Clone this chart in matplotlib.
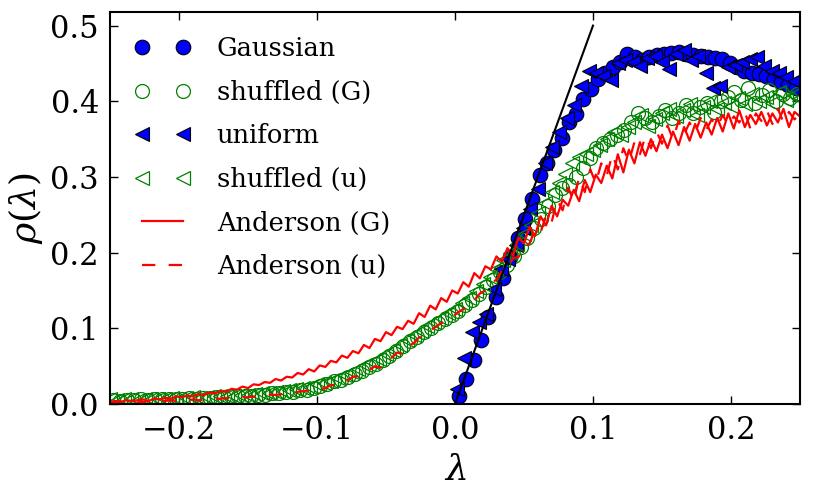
import numpy as np
import matplotlib
matplotlib.use("Agg")
import matplotlib.pyplot as plt

# ---------------- data ----------------
gauss_x = [0.0030, 0.0083, 0.0136, 0.0189, 0.0242, 0.0295, 0.0348, 0.0401, 0.0454, 0.0507,
           0.0560, 0.0613, 0.0666, 0.0719, 0.0772, 0.0825, 0.0878, 0.0931, 0.0984, 0.1037,
           0.1090, 0.1143, 0.1196, 0.1249, 0.1302, 0.1355, 0.1408, 0.1461, 0.1514, 0.1567,
           0.1620, 0.1673, 0.1726, 0.1779, 0.1832, 0.1885, 0.1938, 0.1991, 0.2044, 0.2097,
           0.2150, 0.2203, 0.2256, 0.2309, 0.2362, 0.2415, 0.2468]
gauss_y = [0.011, 0.033, 0.058, 0.085, 0.115, 0.142, 0.167, 0.194, 0.220, 0.245,
           0.271, 0.302, 0.318, 0.335, 0.352, 0.372, 0.383, 0.403, 0.416, 0.430,
           0.438, 0.445, 0.452, 0.462, 0.458, 0.455, 0.459, 0.461, 0.463, 0.464,
           0.465, 0.463, 0.461, 0.460, 0.459, 0.457, 0.456, 0.450, 0.445, 0.440,
           0.437, 0.436, 0.433, 0.430, 0.425, 0.421, 0.417]

unif_x = [0.0015, 0.0068, 0.0121, 0.0174, 0.0227, 0.0280, 0.0333, 0.0386, 0.0439, 0.0492,
          0.0545, 0.0598, 0.0651, 0.0704, 0.0757, 0.0810, 0.0863, 0.0916, 0.0969, 0.1022,
          0.1075, 0.1128, 0.1181, 0.1234, 0.1287, 0.1340, 0.1393, 0.1446, 0.1499, 0.1552,
          0.1605, 0.1658, 0.1711, 0.1764, 0.1817, 0.1870, 0.1923, 0.1976, 0.2029, 0.2082,
          0.2135, 0.2188, 0.2241, 0.2294, 0.2347, 0.2400, 0.2453]
unif_y = [0.020, 0.061, 0.095, 0.108, 0.119, 0.152, 0.178, 0.192, 0.210, 0.232,
          0.258, 0.284, 0.318, 0.340, 0.360, 0.378, 0.395, 0.420, 0.440, 0.437,
          0.433, 0.428, 0.450, 0.455, 0.452, 0.447, 0.457, 0.460, 0.452, 0.443,
          0.462, 0.468, 0.455, 0.460, 0.438, 0.418, 0.420, 0.445, 0.448, 0.452,
          0.456, 0.458, 0.446, 0.440, 0.437, 0.432, 0.427]

shufG_y = [0.005, 0.004, 0.005, 0.005, 0.006, 0.005, 0.006, 0.006, 0.007, 0.006,
           0.007, 0.008, 0.007, 0.008, 0.008, 0.009, 0.009, 0.010, 0.010, 0.011,
           0.011, 0.012, 0.012, 0.014, 0.014, 0.016, 0.016, 0.018, 0.019, 0.021,
           0.024, 0.026, 0.030, 0.032, 0.036, 0.040, 0.044, 0.049, 0.053, 0.058,
           0.064, 0.070, 0.077, 0.083, 0.089, 0.095, 0.101, 0.107, 0.112, 0.117,
           0.123, 0.131, 0.138, 0.146, 0.155, 0.164, 0.174, 0.184, 0.195, 0.207,
           0.220, 0.232, 0.245, 0.262, 0.276, 0.285, 0.290, 0.300, 0.312, 0.325,
           0.338, 0.345, 0.350, 0.356, 0.362, 0.372, 0.385, 0.378, 0.372, 0.380,
           0.388, 0.378, 0.385, 0.395, 0.384, 0.392, 0.398, 0.386, 0.400, 0.406,
           0.412, 0.402, 0.418, 0.398, 0.408, 0.415, 0.400, 0.410, 0.404, 0.410]

shufU_y = [0.006, 0.005, 0.006, 0.006, 0.005, 0.007, 0.006, 0.007, 0.007, 0.008,
           0.007, 0.008, 0.009, 0.008, 0.009, 0.010, 0.010, 0.011, 0.011, 0.012,
           0.012, 0.013, 0.014, 0.015, 0.016, 0.017, 0.018, 0.020, 0.021, 0.023,
           0.026, 0.028, 0.031, 0.034, 0.038, 0.042, 0.046, 0.051, 0.055, 0.060,
           0.066, 0.072, 0.078, 0.085, 0.091, 0.097, 0.103, 0.109, 0.114, 0.120,
           0.126, 0.133, 0.140, 0.149, 0.158, 0.168, 0.178, 0.190, 0.200, 0.212,
           0.224, 0.236, 0.252, 0.266, 0.280, 0.292, 0.304, 0.318, 0.326, 0.331,
           0.336, 0.342, 0.350, 0.360, 0.356, 0.366, 0.372, 0.382, 0.368, 0.376,
           0.384, 0.390, 0.380, 0.388, 0.396, 0.382, 0.392, 0.400, 0.390, 0.398,
           0.394, 0.404, 0.396, 0.410, 0.400, 0.406, 0.398, 0.412, 0.402, 0.408,
           0.404]

andG_y = [0.003, 0.004, 0.003, 0.005, 0.004, 0.005, 0.006, 0.004, 0.007, 0.006,
          0.008, 0.007, 0.010, 0.009, 0.011, 0.010, 0.013, 0.012, 0.015, 0.014,
          0.017, 0.016, 0.020, 0.019, 0.023, 0.021, 0.026, 0.025, 0.029, 0.028,
          0.033, 0.031, 0.036, 0.035, 0.041, 0.039, 0.046, 0.043, 0.051, 0.049,
          0.057, 0.055, 0.064, 0.061, 0.070, 0.067, 0.078, 0.074, 0.086, 0.083,
          0.095, 0.091, 0.102, 0.099, 0.110, 0.106, 0.120, 0.115, 0.130, 0.125,
          0.140, 0.135, 0.150, 0.146, 0.161, 0.155, 0.173, 0.166, 0.182, 0.178,
          0.195, 0.188, 0.206, 0.196, 0.220, 0.212, 0.234, 0.222, 0.248, 0.236,
          0.262, 0.248, 0.270, 0.262, 0.283, 0.268, 0.296, 0.280, 0.303, 0.292,
          0.315, 0.298, 0.330, 0.306, 0.336, 0.318, 0.346, 0.328, 0.350, 0.334,
          0.356, 0.338, 0.360, 0.342, 0.366, 0.348, 0.370, 0.352, 0.372, 0.356,
          0.378, 0.360, 0.384, 0.364, 0.388, 0.366, 0.382, 0.370, 0.386, 0.368,
          0.384, 0.372, 0.390, 0.366, 0.386, 0.380]

andU_y = [0.002, 0.003, 0.002, 0.003, 0.003, 0.002, 0.003, 0.004, 0.003, 0.004,
          0.004, 0.005, 0.004, 0.005, 0.005, 0.006, 0.005, 0.006, 0.006, 0.007,
          0.007, 0.008, 0.007, 0.008, 0.009, 0.009, 0.010, 0.010, 0.011, 0.012,
          0.012, 0.013, 0.014, 0.015, 0.016, 0.017, 0.018, 0.018, 0.020, 0.021,
          0.025, 0.025, 0.030, 0.031, 0.036, 0.037, 0.043, 0.045, 0.050, 0.048,
          0.058, 0.061, 0.068, 0.066, 0.077, 0.080, 0.088, 0.091, 0.097, 0.102,
          0.107, 0.109, 0.115, 0.121, 0.125, 0.133, 0.137, 0.146, 0.150, 0.160,
          0.164, 0.176, 0.178, 0.193, 0.194, 0.210, 0.212, 0.230, 0.226, 0.250,
          0.240, 0.270, 0.256, 0.286, 0.268, 0.300, 0.280, 0.310, 0.292, 0.318,
          0.302, 0.330, 0.310, 0.338, 0.320, 0.346, 0.330, 0.354, 0.338, 0.360,
          0.344, 0.368, 0.350, 0.374, 0.356, 0.372, 0.358, 0.378, 0.362, 0.376,
          0.366, 0.382, 0.368, 0.380, 0.372, 0.386, 0.364, 0.384, 0.374, 0.388,
          0.370, 0.390, 0.372, 0.386, 0.376, 0.384]

# lambda grids for the dense series
shufG_x = np.linspace(-0.2475, 0.2475, len(shufG_y))
shufU_x = np.linspace(-0.25, 0.25, len(shufU_y))
andG_x = np.linspace(-0.25, 0.25, len(andG_y))
andU_x = np.linspace(-0.25, 0.25, len(andU_y))

fit_x = [0.0, 0.1]
fit_y = [0.0, 0.5]

xticks = [-0.2, -0.1, 0.0, 0.1, 0.2]
yticks = [0.0, 0.1, 0.2, 0.3, 0.4, 0.5]

# ---------------- plotting ----------------
plt.rcParams['font.family'] = ['DejaVu Serif']
plt.rcParams['mathtext.fontset'] = 'dejavuserif'

fig = plt.figure(figsize=(8.17, 4.88), dpi=100)
ax = fig.add_axes([110 / 817, 84 / 488, 690 / 817, 392 / 488])

ax.plot(gauss_x, gauss_y, 'o', color='b', mec='k', mew=0.8, ms=10.5, label='Gaussian')
ax.plot(shufG_x, shufG_y, 'o', mfc='none', mec='g', mew=0.9, ms=10, label='shuffled (G)')
ax.plot(unif_x, unif_y, '<', color='b', mec='k', mew=0.8, ms=10.5, label='uniform')
ax.plot(shufU_x, shufU_y, '<', mfc='none', mec='g', mew=0.9, ms=10, label='shuffled (u)')
ax.plot(andG_x, andG_y, '-', color='r', lw=1.6, label='Anderson (G)')
ax.plot(andU_x, andU_y, '--', color='r', lw=1.6, dashes=(6, 6), label='Anderson (u)')
ax.plot(fit_x, fit_y, '-', color='k', lw=1.5)

ax.set_xlim(-0.25, 0.25)
ax.set_ylim(0.0, 0.518)
ax.set_xticks(xticks)
ax.set_yticks(yticks)
ax.set_xticklabels([f'{v:.1f}'.replace('-', '\u2212') for v in xticks])
ax.set_yticklabels([f'{v:.1f}' for v in yticks])
ax.tick_params(direction='in', top=True, right=True, length=6, width=1,
               labelsize=22, pad=8)
for s in ax.spines.values():
    s.set_linewidth(1.5)

ax.set_xlabel(r'$\lambda$', fontsize=26, labelpad=5)
ax.set_ylabel(r'$\rho(\lambda)$', fontsize=26, labelpad=4)

leg = ax.legend(loc='upper left', frameon=False, numpoints=2, fontsize=18.5,
                handlelength=2.2, handletextpad=1.0, labelspacing=0.72,
                borderaxespad=0.5, borderpad=0.45)

fig.savefig('out.png', dpi=100)
